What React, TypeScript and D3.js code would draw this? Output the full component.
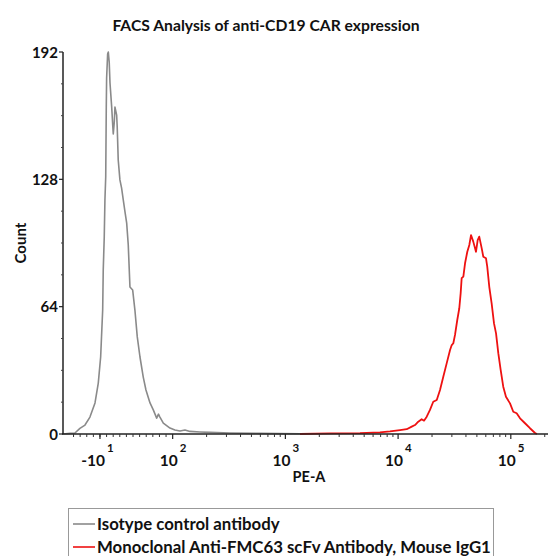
import React from "react";
import * as d3 from "d3";

// ---- Data (x in display decades of PE-A, y in counts) ----
const isotypeX = [1.027, 1.089, 1.133, 1.177, 1.222, 1.266, 1.311, 1.340, 1.361, 1.379, 1.384, 1.393, 1.399, 1.406, 1.411, 1.414, 1.423, 1.429, 1.437, 1.444, 1.459, 1.468, 1.473, 1.482, 1.488, 1.503, 1.508, 1.517, 1.532, 1.547, 1.562, 1.577, 1.592, 1.606, 1.621, 1.645, 1.665, 1.686, 1.710, 1.739, 1.763, 1.799, 1.828, 1.858, 1.874, 1.887, 1.917, 1.976, 2.020, 2.065, 2.109, 2.154, 2.242, 2.331, 2.508, 2.775, 3.129];
const isotypeY = [0, 0.3, 0.5, 2.8, 4.5, 8.5, 15.6, 25.6, 38.7, 62.3, 82.4, 99, 117.6, 129.2, 164.3, 178.9, 191, 192, 187, 176.4, 164.3, 155.3, 150.8, 156.8, 164.3, 160.3, 154.3, 137.7, 127.7, 123.6, 117.6, 111.6, 106, 95, 73.9, 72.4, 62.3, 48.8, 38.7, 28.6, 22.1, 15.6, 12.1, 8.0, 10, 8.5, 5.5, 3.0, 2.0, 1.5, 2.0, 1.3, 1.0, 0.8, 0.5, 0.3, 0.1];

const cd19X = [3.130, 3.396, 3.662, 3.839, 3.928, 4.017, 4.076, 4.121, 4.150, 4.179, 4.209, 4.230, 4.254, 4.283, 4.312, 4.343, 4.372, 4.401, 4.431, 4.461, 4.476, 4.490, 4.505, 4.525, 4.543, 4.555, 4.564, 4.579, 4.594, 4.614, 4.632, 4.647, 4.667, 4.691, 4.706, 4.720, 4.742, 4.756, 4.780, 4.791, 4.809, 4.830, 4.851, 4.869, 4.889, 4.910, 4.933, 4.957, 4.993, 5.022, 5.052, 5.082, 5.126, 5.170, 5.215, 5.232];
const cd19Y = [0, 0.3, 0.4, 0.8, 1.3, 2.0, 2.4, 3.7, 4.5, 6.2, 7.4, 6.7, 8.7, 12.1, 16.2, 17.1, 22.1, 28.8, 35.5, 42.2, 44.7, 45.6, 49.8, 57.3, 63.2, 70.7, 78.3, 79.1, 85.8, 91.6, 95.0, 100.0, 96.7, 91.6, 97.5, 99.2, 93.3, 89.1, 88.3, 84.1, 74.0, 65.7, 55.6, 50.6, 40.6, 32.2, 23.8, 18.7, 15.4, 11.2, 10.4, 7.9, 5.4, 2.9, 0.5, 0];

const yTickValues = [0, 64, 128, 192];
const xMajorValues = [-10, 100, 1000, 10000, 100000];
const xMajorMain = ["-10", "10", "10", "10", "10"];
const xMajorExp = ["1", "2", "3", "4", "5"];

const title = "FACS Analysis of anti-CD19 CAR expression";
const xLabel = "PE-A";
const yLabel = "Count";
const seriesNames = ["Isotype control antibody", "Monoclonal Anti-FMC63 scFv Antibody, Mouse IgG1"];
const seriesColors = ["#8a8a8a", "#ee1111"];

// biexponential-like display transform (linear below 100, log above)
const linK = (2 - 1.355) / 110;
const toDisplay = (v: number) => (v >= 100 ? Math.log10(v) : 2 + (v - 100) * linK);

const xMinorValues: number[] = [];
for (let v = -50; v <= 90; v += 10) xMinorValues.push(v);
for (let e = 2; e <= 5; e++) for (let k = 2; k <= 9; k++) xMinorValues.push(k * Math.pow(10, e));

export default function App() {
  const W = 552, H = 556;
  const x = d3.scaleLinear().domain([1.027, 5.33]).range([63, 548]);
  const y = d3.scaleLinear().domain([0, 192]).range([434, 52]);
  const line = d3
    .line<[number, number]>()
    .x((d) => x(d[0]))
    .y((d) => y(d[1]));
  const iso = isotypeX.map((v, i) => [v, isotypeY[i]] as [number, number]);
  const cd = cd19X.map((v, i) => [v, cd19Y[i]] as [number, number]);
  const font = "Lato, 'Open Sans', sans-serif";
  const yMinor = d3.range(0, 193, 16).filter((v) => !yTickValues.includes(v));
  const [x0, x1] = x.range();

  return (
    <svg width={W} height={H} style={{ position: "absolute", left: 0, top: 0, background: "#fff" }} fontFamily={font}>
      <rect x={0} y={0} width={W} height={H} fill="#fff" />
      <text x={266} y={31} textAnchor="middle" fontSize={15.7} fontWeight="bold" fill="#111">
        {title}
      </text>

      {/* curves */}
      <path d={line(iso) || ""} fill="none" stroke={seriesColors[0]} strokeWidth={1.6} strokeLinejoin="round" />
      <path d={line(cd) || ""} fill="none" stroke={seriesColors[1]} strokeWidth={1.8} strokeLinejoin="round" />

      {/* y axis */}
      <line x1={x0} x2={x0} y1={y(192)} y2={y(0)} stroke="#222" strokeWidth={1.5} />
      {yMinor.map((v) => (
        <line key={"ym" + v} x1={x0 - 2} x2={x0} y1={y(v)} y2={y(v)} stroke="#444" strokeWidth={1} />
      ))}
      {yTickValues.map((v) => (
        <g key={"y" + v}>
          <line x1={x0 - 4} x2={x0} y1={y(v)} y2={y(v)} stroke="#222" strokeWidth={1.2} />
          <text x={x0 - 5} y={y(v) + 5.5} textAnchor="end" fontSize={15} fontWeight="bold" fill="#111">
            {v}
          </text>
        </g>
      ))}
      <text transform={`translate(26,${y(96)}) rotate(-90)`} textAnchor="middle" fontSize={15} fontWeight="bold" fill="#111">
        {yLabel}
      </text>

      {/* x axis */}
      <line x1={x0 - 1} x2={x1} y1={y(0)} y2={y(0)} stroke="#222" strokeWidth={1.5} />
      {xMinorValues.map((v) => {
        const d = toDisplay(v);
        if (d < 1.03 || d > 5.32) return null;
        return <line key={"xm" + v} x1={x(d)} x2={x(d)} y1={y(0)} y2={y(0) + 3} stroke="#333" strokeWidth={1} />;
      })}
      {xMajorValues.map((v, i) => {
        const px = x(toDisplay(v));
        return (
          <g key={"x" + v}>
            <line x1={px} x2={px} y1={y(0)} y2={y(0) + 5} stroke="#222" strokeWidth={1.2} />
            <text x={px + 5} y={466} textAnchor="end" fontSize={15.5} fontWeight="bold" fill="#111">
              {xMajorMain[i]}
            </text>
            <text x={px + 7} y={452} textAnchor="start" fontSize={11.5} fontWeight="bold" fill="#111">
              {xMajorExp[i]}
            </text>
          </g>
        );
      })}
      <text x={309} y={482} textAnchor="middle" fontSize={14.5} fontWeight="bold" fill="#111">
        {xLabel}
      </text>

      {/* legend */}
      <rect x={68.5} y={508.5} width={425} height={60} fill="#fff" stroke="#999" strokeWidth={1} />
      {seriesNames.map((n, i) => (
        <g key={n}>
          <line x1={73} x2={95} y1={524 + i * 23} y2={524 + i * 23} stroke={seriesColors[i]} strokeWidth={1.6} />
          <text x={97} y={530 + i * 22.5} fontSize={16.8} fontWeight="bold" fill="#111">
            {n}
          </text>
        </g>
      ))}
    </svg>
  );
}
